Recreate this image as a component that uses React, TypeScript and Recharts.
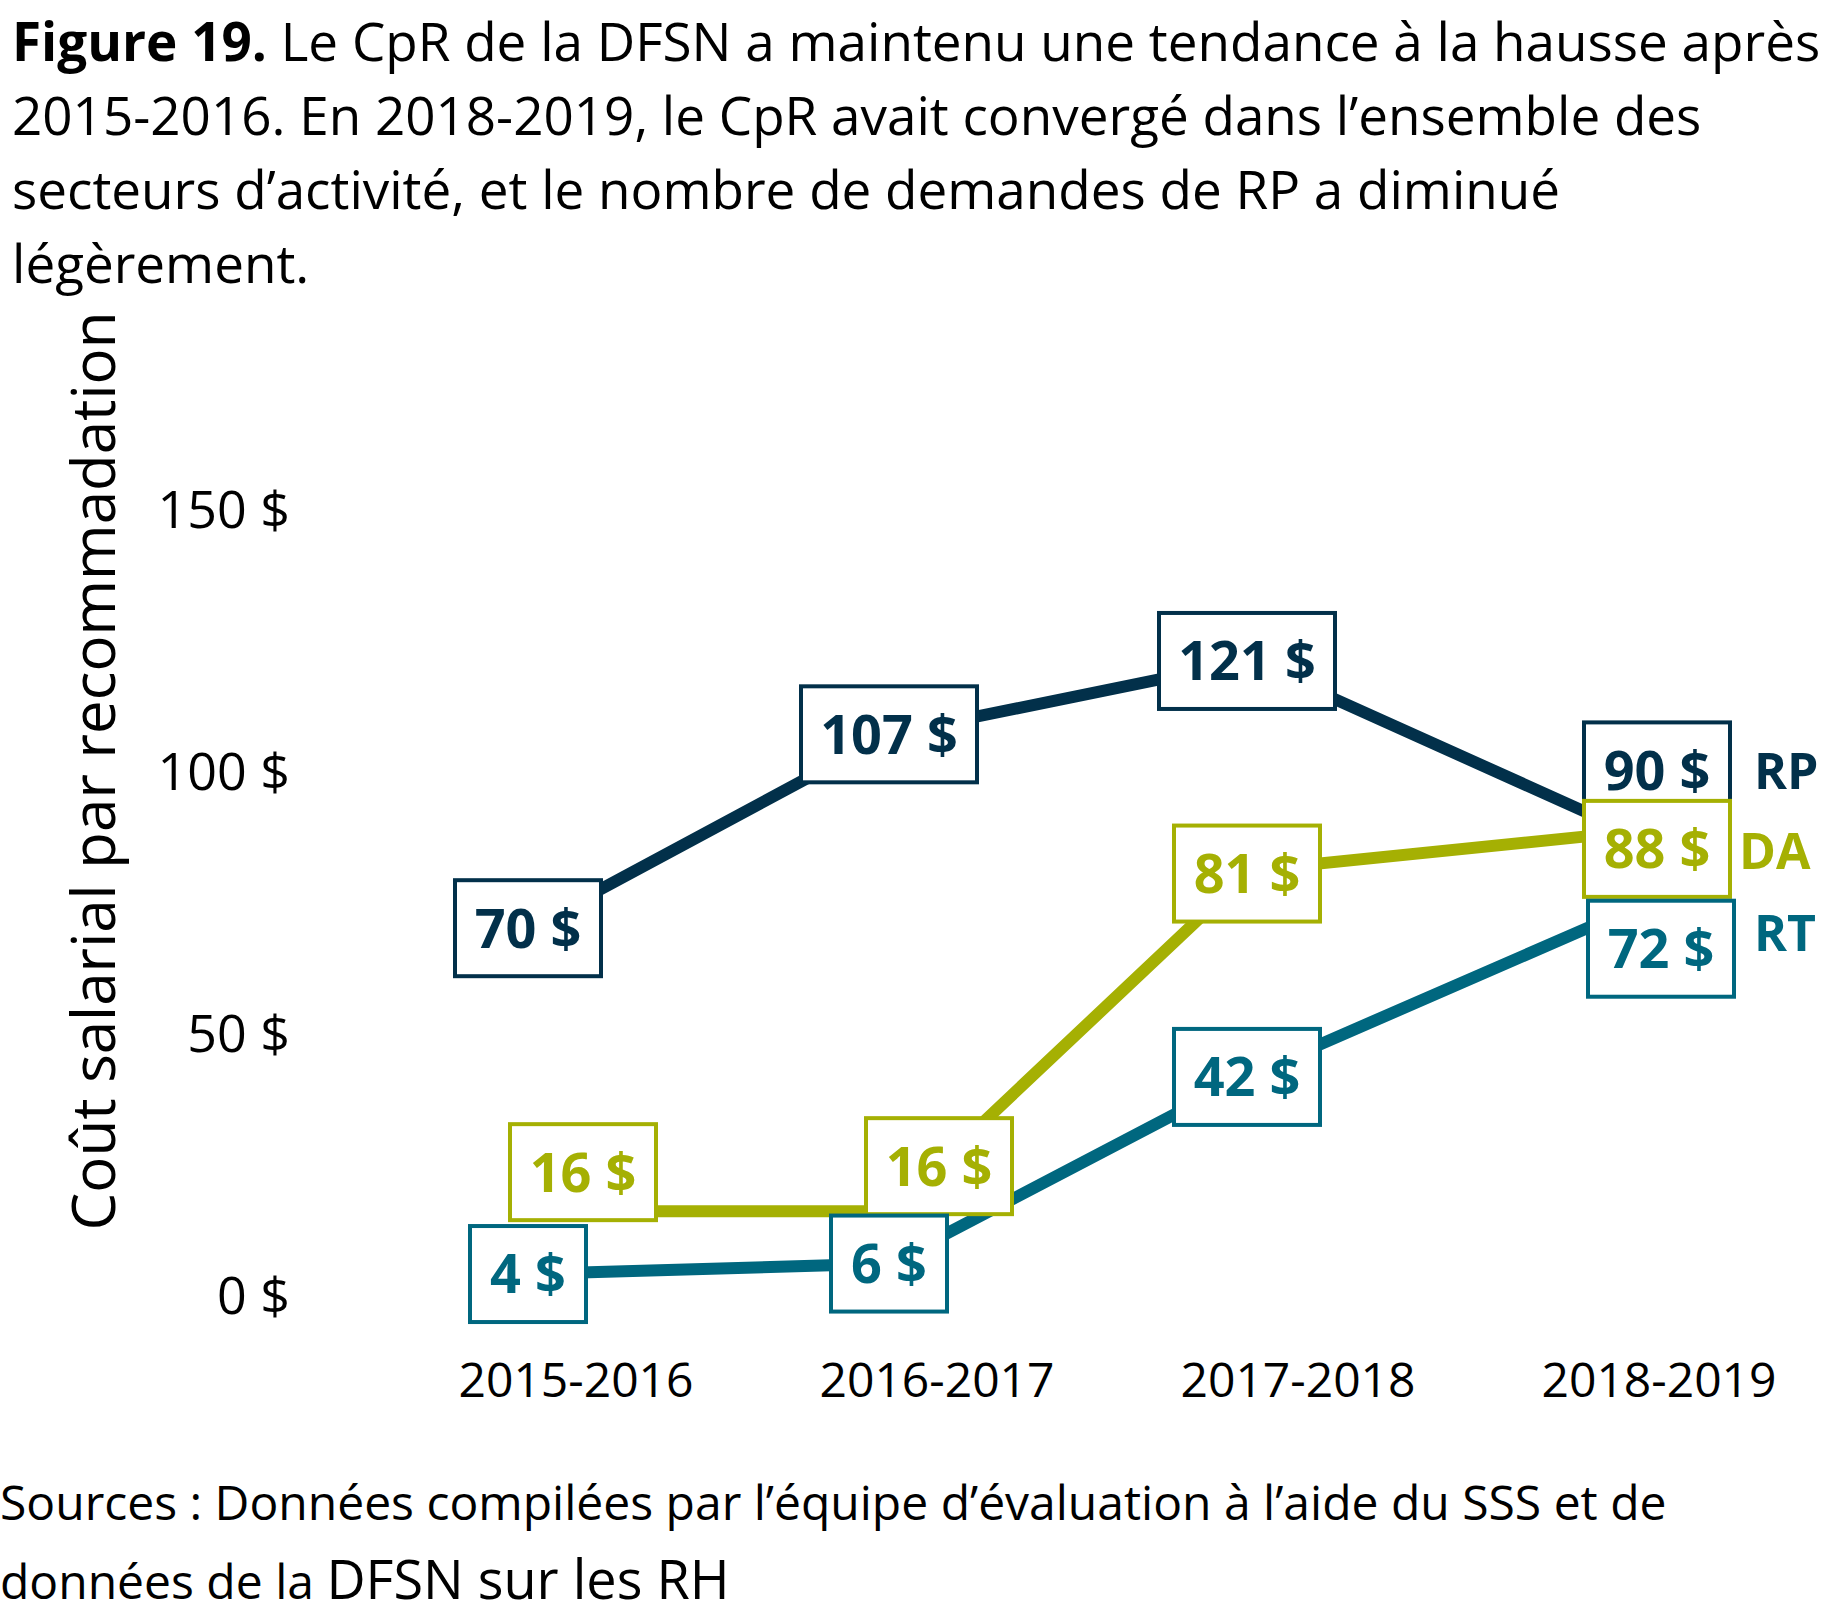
import React from 'react';
import { LineChart, Line, XAxis, YAxis, LabelList } from 'recharts';

// Fiscal years on the horizontal axis
const periods = ['2015-2016', '2016-2017', '2017-2018', '2018-2019'];
// Salary cost per recommendation, in dollars
const rpValues = [70, 107, 121, 90];
const daValues = [16, 16, 81, 88];
const rtValues = [4, 6, 42, 72];
// Vertical axis ticks
const yTicks = [0, 50, 100, 150];

const seriesKeys = ['RP', 'DA', 'RT'] as const;
type SeriesKey = typeof seriesKeys[number];

const colors: Record<SeriesKey, string> = {
  RP: '#02304A',
  DA: '#A5B003',
  RT: '#00677F',
};

const data = periods.map((period, i) => ({
  period,
  RP: rpValues[i],
  DA: daValues[i],
  RT: rtValues[i],
}));

// Where each value box sits relative to its point (dx, dy)
const boxOffsets: Record<SeriesKey, [number, number][]> = {
  RP: [[0, 0], [0, 0], [-3, 0], [46, -53]],
  DA: [[55, -39], [50, -45], [-3, 3], [46, 15]],
  RT: [[0, 0], [0, 0], [-3, 2], [50, 31]],
};

// Series name drawn to the right of the last box (dx from box right edge, dy from box centre)
const nameOffsets: Record<SeriesKey, [number, number]> = {
  RP: [24, 1],
  DA: [9, 2],
  RT: [20, -16],
};

const FONT = "'Open Sans', 'Noto Sans', sans-serif";
const LABEL_SIZE = 54;

function makeBoxLabel(key: SeriesKey) {
  return (props: any) => {
    const vb = props.viewBox || {};
    const px = props.x ?? vb.x;
    const py = props.y ?? vb.y;
    let index = props.index;
    if (index === undefined && props.payload) {
      index = periods.indexOf(props.payload.period);
    }
    let value = props.value;
    if (Array.isArray(value)) value = value[value.length - 1];
    if (px === undefined || py === undefined || index === undefined) return null;
    const [dx, dy] = boxOffsets[key][index];
    const cx = px + dx;
    const cy = py + dy;
    const digits = String(value).length;
    const w = 86 + 30 * digits;
    const h = 96;
    const color = colors[key];
    const isLast = index === periods.length - 1;
    const [nx, ny] = nameOffsets[key];
    return (
      <g>
        <rect
          x={cx - w / 2}
          y={cy - h / 2}
          width={w}
          height={h}
          fill="#ffffff"
          stroke={color}
          strokeWidth={4}
        />
        <text
          x={cx}
          y={cy}
          dy="0.36em"
          textAnchor="middle"
          fill={color}
          fontFamily={FONT}
          fontWeight={700}
          fontSize={LABEL_SIZE}
        >
          {`${value} $`}
        </text>
        {isLast && (
          <text
            x={cx + w / 2 + nx}
            y={cy + ny}
            dy="0.36em"
            textAnchor="start"
            fill={color}
            fontFamily={FONT}
            fontWeight={700}
            fontSize={50}
          >
            {key}
          </text>
        )}
      </g>
    );
  };
}

const YTick = (props: any) => {
  const { x, y, payload } = props;
  return (
    <text
      x={x}
      y={y}
      dy="0.36em"
      textAnchor="end"
      fill="#000"
      fontFamily={FONT}
      fontSize={52}
    >
      {`${payload.value} $`}
    </text>
  );
};

const XTick = (props: any) => {
  const { x, y, payload } = props;
  return (
    <text
      x={x + 48}
      y={y}
      dy="0.36em"
      textAnchor="middle"
      fill="#000"
      fontFamily={FONT}
      fontSize={48}
    >
      {payload.value}
    </text>
  );
};

const titleLines: React.ReactNode[] = [
  <>
    <b>Figure 19.</b> Le CpR de la DFSN a maintenu une tendance à la hausse après
  </>,
  <>2015-2016. En 2018-2019, le CpR avait convergé dans l’ensemble des</>,
  <>secteurs d’activité, et le nombre de demandes de RP a diminué</>,
  <>légèrement.</>,
];

export default function App() {
  return (
    <div
      style={{
        position: 'absolute',
        left: 0,
        top: 0,
        width: 1833,
        height: 1615,
        background: '#ffffff',
        overflow: 'hidden',
        fontFamily: FONT,
        color: '#000',
      }}
    >
      <LineChart
        width={1833}
        height={1615}
        data={data}
        margin={{ top: 509, right: 222, bottom: 220, left: 0 }}
      >
        <XAxis
          dataKey="period"
          axisLine={false}
          tickLine={false}
          tickSize={0}
          tickMargin={85}
          height={100}
          interval={0}
          tick={<XTick />}
        />
        <YAxis
          domain={[0, 150]}
          ticks={yTicks}
          axisLine={false}
          tickLine={false}
          tickSize={0}
          tickMargin={238}
          width={528}
          interval={0}
          tick={<YTick />}
        />
        {seriesKeys.map((key) => (
          <Line
            key={`line-${key}`}
            type="linear"
            dataKey={key}
            stroke={colors[key]}
            strokeWidth={12}
            strokeLinecap="round"
            strokeLinejoin="round"
            dot={false}
            activeDot={false}
            isAnimationActive={false}
          />
        ))}
        {seriesKeys.map((key) => (
          <Line
            key={`labels-${key}`}
            type="linear"
            dataKey={key}
            stroke="none"
            dot={false}
            activeDot={false}
            isAnimationActive={false}
            legendType="none"
          >
            <LabelList dataKey={key} content={makeBoxLabel(key)} />
          </Line>
        ))}
        <text
          transform="translate(93, 771) rotate(-90)"
          textAnchor="middle"
          dy="0.36em"
          fill="#000"
          fontFamily={FONT}
          fontSize={60}
        >
          Coût salarial par recommadation
        </text>
      </LineChart>

      <div
        style={{
          position: 'absolute',
          left: 12,
          top: 4,
          fontSize: 53,
          lineHeight: '74px',
          whiteSpace: 'pre',
        }}
      >
        {titleLines.map((line, i) => (
          <div key={i}>{line}</div>
        ))}
      </div>

      <div
        style={{
          position: 'absolute',
          left: 0,
          top: 1461,
          fontSize: 48,
          lineHeight: '82px',
          whiteSpace: 'pre',
        }}
      >
        Sources : Données compilées par l’équipe d’évaluation à l’aide du SSS et de
      </div>
      <div
        style={{
          position: 'absolute',
          left: 0,
          top: 1541,
          fontSize: 48,
          lineHeight: '74px',
          whiteSpace: 'pre',
        }}
      >
        données de la <span style={{ fontSize: 54 }}>DFSN sur les RH</span>
      </div>
    </div>
  );
}
